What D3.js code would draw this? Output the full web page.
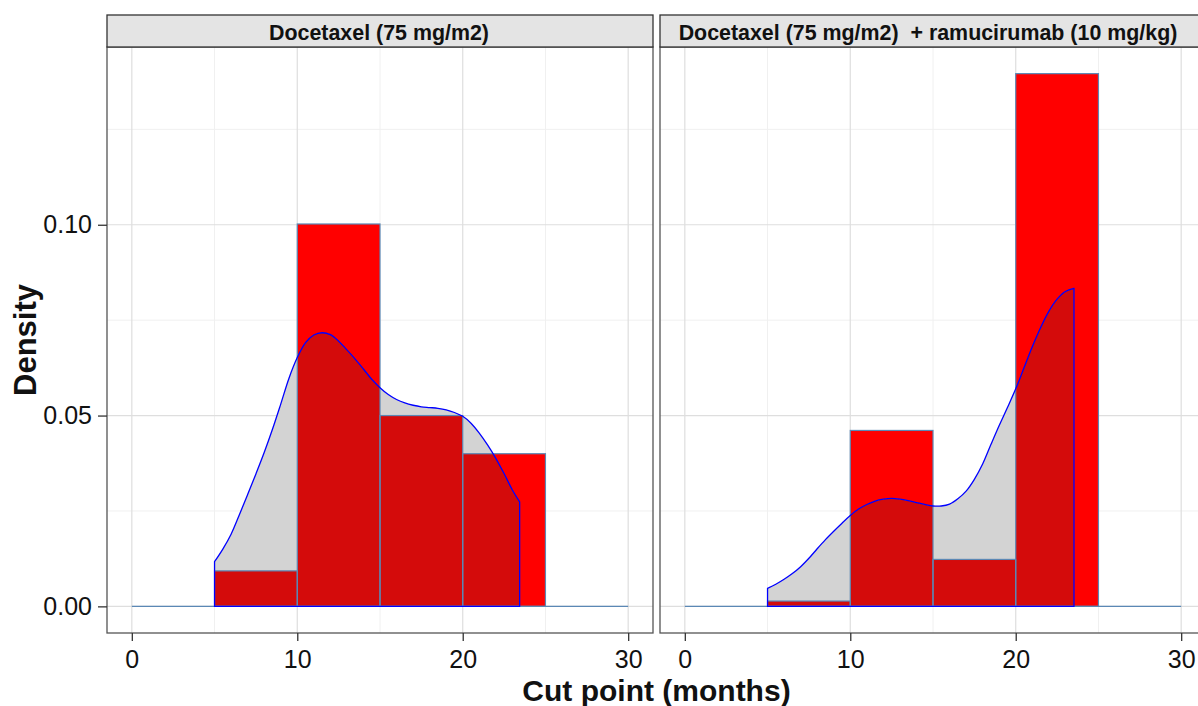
<!DOCTYPE html>
<html>
<head>
<meta charset="utf-8">
<script src="https://cdn.jsdelivr.net/npm/d3@7"></script>
<style>
  html, body { margin: 0; padding: 0; background: #fff; }
  svg { display: block; font-family: "Liberation Sans", Arial, sans-serif; }
</style>
</head>
<body>
<svg id="chart" width="1198" height="706"></svg>
<script>
// Histogram bin edges (months) shared by both arms
const binEdges = [0, 5, 10, 15, 20, 25, 30];

// Facet labels
const panelTitles = [
  "Docetaxel (75 mg/m2)",
  "Docetaxel (75 mg/m2)  + ramucirumab (10 mg/kg)"
];

// Histogram densities per bin, one array per arm
const histDocetaxel = [0, 0.0093, 0.1002, 0.0500, 0.0400, 0];
const histRamucirumab = [0, 0.0014, 0.0461, 0.0123, 0.1396, 0];

// Kernel density estimate, [cut point, density]
const kdeDocetaxel = [
  [5.0, 0.0117], [5.5, 0.0150], [6.0, 0.0189], [6.5, 0.0240], [7.0, 0.0293],
  [7.5, 0.0347], [8.0, 0.0403], [8.5, 0.0464], [9.0, 0.0530], [9.5, 0.0598],
  [10.0, 0.0652], [10.5, 0.0691], [11.0, 0.0711], [11.5, 0.0717], [12.0, 0.0712],
  [12.5, 0.0695], [13.0, 0.0672], [13.5, 0.0648], [14.0, 0.0622], [14.5, 0.0595],
  [15.0, 0.0573], [15.5, 0.0555], [16.0, 0.0542], [16.5, 0.0533], [17.0, 0.0527],
  [17.5, 0.0523], [18.0, 0.0521], [18.5, 0.0519], [19.0, 0.0515], [19.5, 0.0508],
  [20.0, 0.0498], [20.5, 0.0480], [21.0, 0.0454], [21.5, 0.0423], [22.0, 0.0388],
  [22.5, 0.0348], [23.0, 0.0305], [23.44, 0.0274]
];
const kdeRamucirumab = [
  [5.0, 0.0047], [5.5, 0.0058], [6.0, 0.0071], [6.5, 0.0086], [7.0, 0.0104],
  [7.5, 0.0126], [8.0, 0.0151], [8.5, 0.0175], [9.0, 0.0197], [9.5, 0.0218],
  [10.0, 0.0238], [10.5, 0.0255], [11.0, 0.0267], [11.5, 0.0276], [12.0, 0.0281],
  [12.5, 0.0283], [13.0, 0.0281], [13.5, 0.0277], [14.0, 0.0272], [14.5, 0.0267],
  [15.0, 0.0263], [15.5, 0.0263], [16.0, 0.0268], [16.5, 0.0282], [17.0, 0.0302],
  [17.5, 0.0333], [18.0, 0.0373], [18.5, 0.0424], [19.0, 0.0474], [19.5, 0.0521],
  [20.0, 0.0570], [20.5, 0.0625], [21.0, 0.0680], [21.5, 0.0730], [22.0, 0.0773],
  [22.5, 0.0805], [23.0, 0.0825], [23.52, 0.0833]
];

// Axis ticks
const xTicks = [0, 10, 20, 30];
const xMinorTicks = [5, 15, 25];
const yTicks = [0, 0.05, 0.10];
const yMinorTicks = [0.025, 0.075, 0.125];

const panels = [
  { title: panelTitles[0], hist: histDocetaxel, kde: kdeDocetaxel },
  { title: panelTitles[1], hist: histRamucirumab, kde: kdeRamucirumab }
];

const svg = d3.select("#chart");

const panelW = 546, panelH = 586;
const panelTop = 47, stripH = 32;
const panelLefts = [107, 660];

const yMax = d3.max([...histDocetaxel, ...histRamucirumab]);
const x = d3.scaleLinear().domain([-1.5, 31.5]).range([0, panelW]);
const y = d3.scaleLinear().domain([-0.05 * yMax, 1.05 * yMax]).range([panelH, 0]);

const defs = svg.append("defs");
const barStroke = "#5b88b5";

panels.forEach((p, i) => {
  const g = svg.append("g").attr("transform", `translate(${panelLefts[i]},${panelTop})`);

  // panel background + grid
  g.append("rect").attr("width", panelW).attr("height", panelH).attr("fill", "#fff");
  g.selectAll(".xminor").data(xMinorTicks).join("line")
    .attr("x1", d => x(d)).attr("x2", d => x(d)).attr("y1", 0).attr("y2", panelH)
    .attr("stroke", "#f0f0f0").attr("stroke-width", 1);
  g.selectAll(".yminor").data(yMinorTicks).join("line")
    .attr("y1", d => y(d)).attr("y2", d => y(d)).attr("x1", 0).attr("x2", panelW)
    .attr("stroke", "#f0f0f0").attr("stroke-width", 1);
  g.selectAll(".xmajor").data(xTicks).join("line")
    .attr("x1", d => x(d)).attr("x2", d => x(d)).attr("y1", 0).attr("y2", panelH)
    .attr("stroke", "#dedede").attr("stroke-width", 1.2);
  g.selectAll(".ymajor").data(yTicks).join("line")
    .attr("y1", d => y(d)).attr("y2", d => y(d)).attr("x1", 0).attr("x2", panelW)
    .attr("stroke", "#dedede").attr("stroke-width", 1.2);

  const bins = p.hist.map((v, k) => ({ x0: binEdges[k], x1: binEdges[k + 1], v }));

  // histogram fill
  g.selectAll(".bar").data(bins).join("rect")
    .attr("x", d => x(d.x0)).attr("width", d => x(d.x1) - x(d.x0))
    .attr("y", d => y(d.v)).attr("height", d => y(0) - y(d.v))
    .attr("fill", "#ff0000");

  // density area (closed to baseline at both data limits)
  const areaGen = d3.area().x(d => x(d[0])).y0(y(0)).y1(d => y(d[1])).curve(d3.curveCatmullRom);
  const areaPath = areaGen(p.kde);
  g.append("path").attr("d", areaPath).attr("fill", "#d3d3d3");

  // overlap of bars and density area
  const clipId = "kdeclip" + i;
  defs.append("clipPath").attr("id", clipId).append("path").attr("d", areaPath);
  g.append("g").attr("clip-path", `url(#${clipId})`)
    .selectAll("rect").data(bins).join("rect")
    .attr("x", d => x(d.x0)).attr("width", d => x(d.x1) - x(d.x0))
    .attr("y", d => y(d.v)).attr("height", d => y(0) - y(d.v))
    .attr("fill", "#d40b0b");

  // histogram outlines (empty bins collapse onto the baseline)
  g.append("line")
    .attr("x1", x(binEdges[0])).attr("x2", x(binEdges[binEdges.length - 1]))
    .attr("y1", y(0)).attr("y2", y(0))
    .attr("stroke", barStroke).attr("stroke-width", 1.2);
  g.selectAll(".barline").data(bins.filter(d => d.v > 0)).join("rect")
    .attr("x", d => x(d.x0)).attr("width", d => x(d.x1) - x(d.x0))
    .attr("y", d => y(d.v)).attr("height", d => y(0) - y(d.v))
    .attr("fill", "none").attr("stroke", barStroke).attr("stroke-width", 1.2);

  // density outline
  g.append("path").attr("d", areaPath)
    .attr("fill", "none").attr("stroke", "#0000ff").attr("stroke-width", 1.3);

  // panel border
  g.append("rect").attr("width", panelW).attr("height", panelH)
    .attr("fill", "none").attr("stroke", "#555").attr("stroke-width", 1.3);

  // strip
  const strip = svg.append("g").attr("transform", `translate(${panelLefts[i]},${panelTop - stripH})`);
  strip.append("rect").attr("width", panelW).attr("height", stripH)
    .attr("fill", "#e4e4e4").attr("stroke", "#333").attr("stroke-width", 1.3);
  strip.append("text").attr("x", panelW / 2 - (i === 1 ? 5 : 1)).attr("y", 24.5)
    .attr("text-anchor", "middle").attr("font-weight", "bold").attr("font-size", 21.4)
    .attr("fill", "#111").style("white-space", "pre").text(p.title);

  // x axis
  const xAxis = svg.append("g").attr("transform", `translate(${panelLefts[i]},${panelTop + panelH})`)
    .call(d3.axisBottom(x).tickValues(xTicks).tickSize(8).tickPadding(9).tickFormat(d3.format("d")));
  xAxis.select(".domain").remove();
  xAxis.selectAll(".tick line").attr("stroke", "#333").attr("stroke-width", 1.3);
  xAxis.selectAll(".tick text").attr("font-size", 25).attr("fill", "#111")
    .attr("font-family", "'Liberation Sans', Arial, sans-serif");

  // y axis on the first panel only
  if (i === 0) {
    const yAxis = svg.append("g").attr("transform", `translate(${panelLefts[i]},${panelTop})`)
      .call(d3.axisLeft(y).tickValues(yTicks).tickSize(9).tickPadding(6).tickFormat(d3.format(".2f")));
    yAxis.select(".domain").remove();
    yAxis.selectAll(".tick line").attr("stroke", "#333").attr("stroke-width", 1.3);
    yAxis.selectAll(".tick text").attr("font-size", 25).attr("fill", "#111")
      .attr("font-family", "'Liberation Sans', Arial, sans-serif");
  }
});

// axis titles
svg.append("text").attr("x", (panelLefts[0] + panelLefts[1] + panelW) / 2).attr("y", 701)
  .attr("text-anchor", "middle").attr("font-weight", "bold").attr("font-size", 30)
  .attr("fill", "#111").text("Cut point (months)");
svg.append("text").attr("transform", `translate(36,${panelTop + panelH / 2}) rotate(-90)`)
  .attr("text-anchor", "middle").attr("font-weight", "bold").attr("font-size", 31)
  .attr("fill", "#111").text("Density");
</script>
</body>
</html>
